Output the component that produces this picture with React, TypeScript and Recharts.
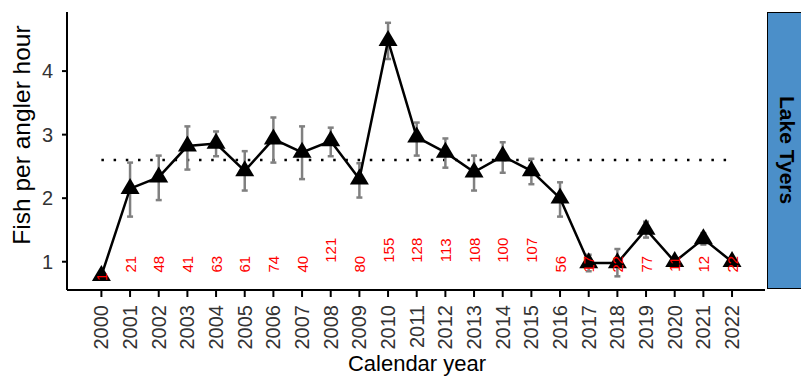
import React from "react"
import { LineChart, Line, XAxis, YAxis, ErrorBar, LabelList, ReferenceLine } from "recharts"

// catch rate by calendar year, Lake Tyers
const years = [2000, 2001, 2002, 2003, 2004, 2005, 2006, 2007, 2008, 2009, 2010, 2011, 2012, 2013, 2014, 2015, 2016, 2017, 2018, 2019, 2020, 2021, 2022]
const cpue = [0.78, 2.15, 2.33, 2.82, 2.86, 2.43, 2.93, 2.72, 2.9, 2.3, 4.48, 2.96, 2.72, 2.41, 2.66, 2.43, 2.0, 0.98, 0.98, 1.51, 1.0, 1.36, 1.0]
const lower = [null, 1.71, 1.97, 2.45, 2.66, 2.12, 2.56, 2.3, 2.66, 2.01, 4.19, 2.67, 2.48, 2.12, 2.4, 2.22, 1.71, 0.85, 0.77, 1.38, 0.95, 1.27, 0.97]
const upper = [null, 2.56, 2.67, 3.13, 3.05, 2.74, 3.27, 3.13, 3.11, 2.55, 4.76, 3.19, 2.94, 2.67, 2.88, 2.62, 2.25, 1.11, 1.2, 1.63, 1.05, 1.45, 1.03]
const anglers = [1, 21, 48, 41, 63, 61, 74, 40, 121, 80, 155, 128, 113, 108, 100, 107, 56, 17, 22, 77, 11, 12, 22]
const meanRate = 2.6
const yTicks = [1, 2, 3, 4]
const panelLabel = "Lake Tyers"

const data = years.map((year, i) => ({
  year,
  cpue: cpue[i],
  err: lower[i] == null ? null : [cpue[i] - (lower[i] as number), (upper[i] as number) - cpue[i]],
  n: anglers[i],
}))

const font = "'Liberation Sans', Arial, sans-serif"

function Triangle(props: any) {
  const { cx, cy, index } = props
  if (cx == null || cy == null) return <g key={index} />
  const h = 16
  const w = 19
  return (
    <path
      key={index}
      d={`M${cx},${cy - (2 * h) / 3} L${cx + w / 2},${cy + h / 3} L${cx - w / 2},${cy + h / 3} Z`}
      fill="#000"
    />
  )
}

function CountLabel(props: any) {
  const { x, y, value } = props
  const digits = String(value).length
  const shift = digits === 1 ? 15 : digits === 2 ? 2.5 : -11.5
  const cy = y + shift
  return (
    <text
      x={x}
      y={cy}
      transform={`rotate(-90 ${x} ${cy})`}
      textAnchor="middle"
      dominantBaseline="central"
      fill="#ff0000"
      fontSize={15}
      fontFamily={font}
    >
      {value}
    </text>
  )
}

function YearTick(props: any) {
  const { x, y, payload } = props
  return (
    <text
      x={x}
      y={y}
      transform={`rotate(-90 ${x} ${y})`}
      textAnchor="end"
      dominantBaseline="central"
      fill="#333"
      fontSize={20}
      fontFamily={font}
    >
      {payload.value}
    </text>
  )
}

export default function App() {
  return (
    <div style={{ position: "absolute", left: 0, top: 0, width: 801, height: 376, background: "#fff" }}>
      <LineChart width={801} height={376} data={data} margin={{ top: 12, right: 36, bottom: 0, left: 0 }}>
        <XAxis
          dataKey="year"
          type="number"
          domain={[1998.8, 2023.15]}
          ticks={years}
          interval={0}
          height={86}
          stroke="#000"
          strokeWidth={2}
          tickSize={7}
          tickMargin={8}
          tick={<YearTick />}
          label={{
            content: () => (
              <text x={417} y={363} textAnchor="middle" dominantBaseline="central" fontSize={22} fontFamily={font} fill="#000">
                Calendar year
              </text>
            ),
          }}
        />
        <YAxis
          type="number"
          domain={[0.555, 4.93]}
          ticks={yTicks}
          width={67}
          stroke="#000"
          strokeWidth={2}
          tickSize={5}
          tickMargin={9}
          tick={{ fill: "#333", fontSize: 20, fontFamily: font }}
          label={{
            content: () => (
              <text
                x={21}
                y={135}
                transform="rotate(-90 21 135)"
                textAnchor="middle"
                dominantBaseline="central"
                fontSize={24.5}
                fontFamily={font}
                fill="#000"
              >
                Fish per angler hour
              </text>
            ),
          }}
        />
        <ReferenceLine
          segment={[{ x: years[0], y: meanRate }, { x: years[years.length - 1], y: meanRate }]}
          stroke="#000"
          strokeWidth={2.5}
          strokeDasharray="2.5 9.7"
        />
        {/* error bars sit under the line and triangles */}
        <Line dataKey="cpue" stroke="none" dot={false} activeDot={false} isAnimationActive={false}>
          <ErrorBar dataKey="err" stroke="#808080" strokeWidth={2.5} width={3} direction="y" />
        </Line>
        <Line
          dataKey="cpue"
          stroke="#000"
          strokeWidth={2.5}
          dot={<Triangle />}
          activeDot={false}
          isAnimationActive={false}
        />
        <Line
          dataKey={() => 1}
          stroke="none"
          dot={false}
          activeDot={false}
          isAnimationActive={false}
        >
          <LabelList dataKey="n" content={<CountLabel />} />
        </Line>
      </LineChart>
      <div
        style={{
          position: "absolute",
          left: 767,
          top: 12,
          width: 40,
          height: 277,
          boxSizing: "border-box",
          border: "1.5px solid #000",
          background: "#4b8fc9",
          display: "flex",
          alignItems: "center",
          justifyContent: "center",
        }}
      >
        <span style={{ writingMode: "vertical-rl", fontFamily: font, fontSize: 21, fontWeight: "bold", color: "#000" }}>
          {panelLabel}
        </span>
      </div>
    </div>
  )
}
